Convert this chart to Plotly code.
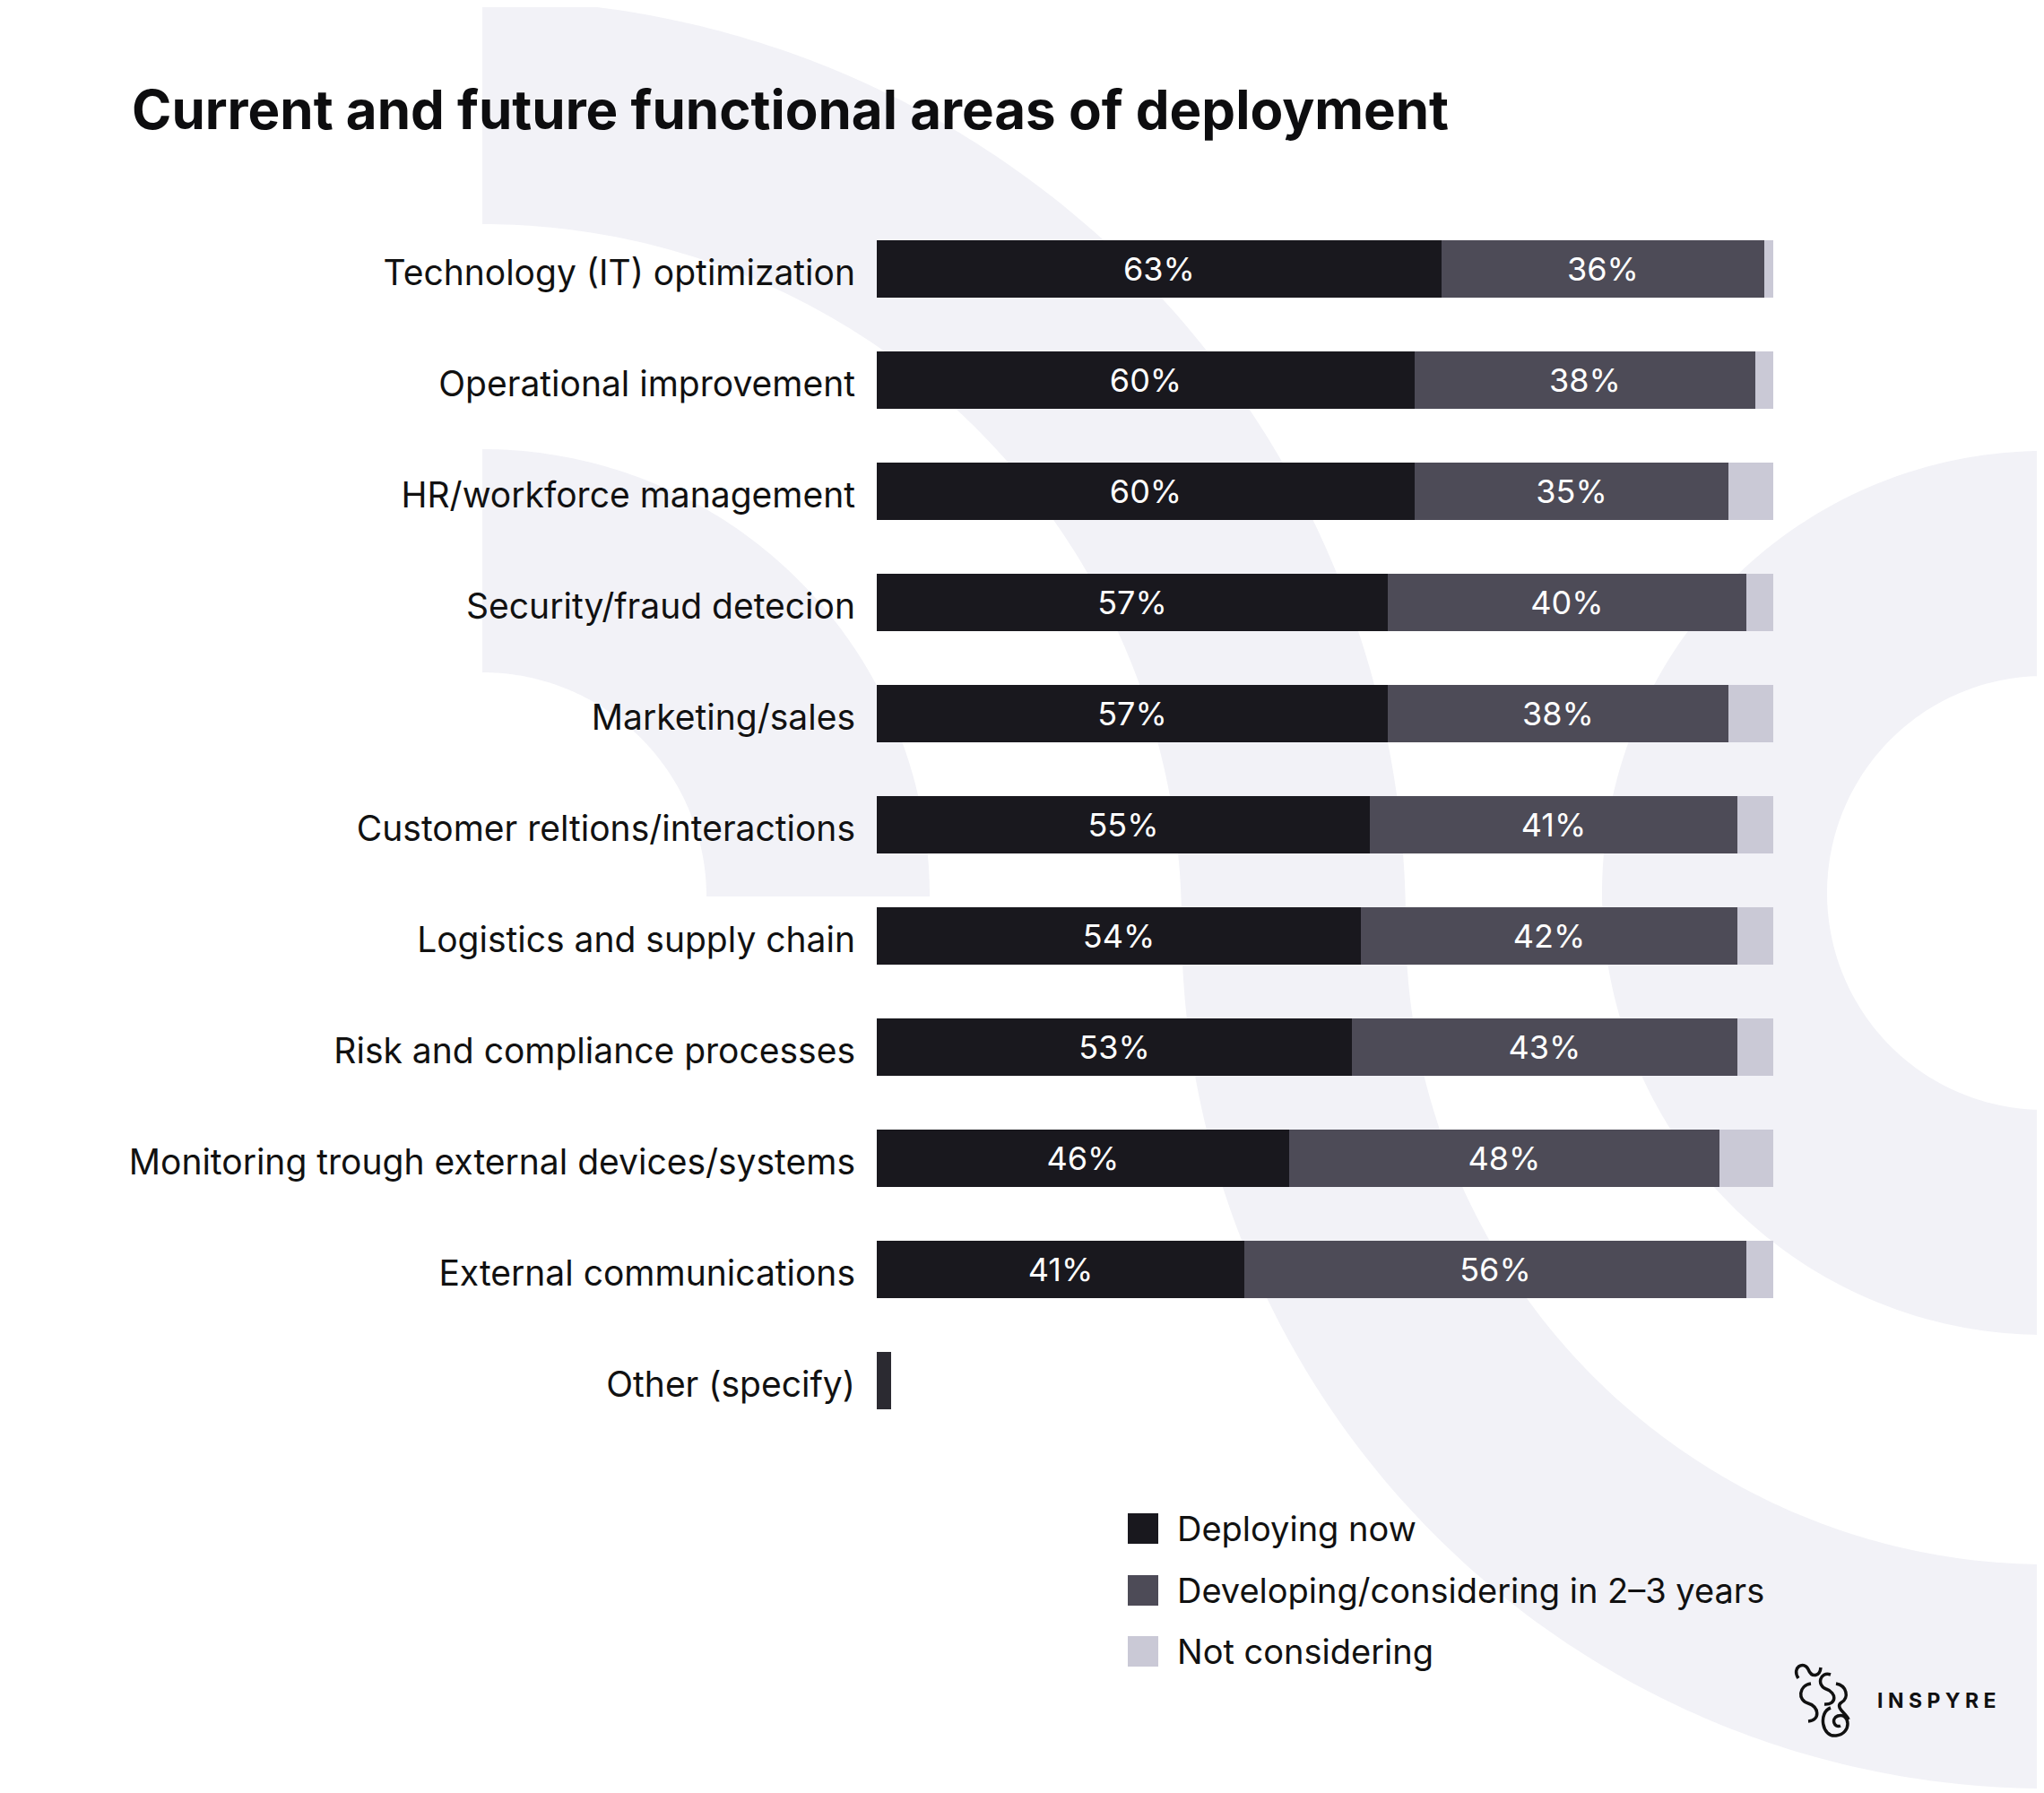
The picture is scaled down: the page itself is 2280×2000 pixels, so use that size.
import numpy as np
import plotly.graph_objects as go

# ---------------- data ----------------
categories = [
    "Technology (IT) optimization",
    "Operational improvement",
    "HR/workforce management",
    "Security/fraud detecion",
    "Marketing/sales",
    "Customer reltions/interactions",
    "Logistics and supply chain",
    "Risk and compliance processes",
    "Monitoring trough external devices/systems",
    "External communications",
    "Other (specify)",
]
deploying_now = [63, 60, 60, 57, 57, 55, 54, 53, 46, 41, 1.6]
developing = [36, 38, 35, 40, 38, 41, 42, 43, 48, 56, 0]
not_considering = [1, 2, 5, 3, 5, 4, 4, 4, 6, 3, 0]
series_names = ["Deploying now", "Developing/considering in 2–3 years", "Not considering"]
title_text = "Current and future functional areas of deployment"

# ---------------- styling ----------------
OFF = 8  # page body margin
W, H = 2280 - OFF, 2000 - OFF
ML, MT = 978 - OFF, 238 - OFF
MR = W - (1978 - OFF)
MB = H - (1602 - OFF)
PW, PH = W - ML - MR, H - MT - MB
FONT = "Inter"
COLORS = ["#19181e", "#4d4b57", "#cac9d6"]
OTHER_COLOR = "#2b2a31"
BG_SHAPE = "#f2f2f7"
LABEL_SIZE = 39


def px2paper(X, Y):
    """page pixel coordinates -> paper coordinates"""
    X, Y = X - OFF, Y - OFF
    return (X - ML) / PW, 1 - (Y - MT) / PH


def poly_path(points):
    parts = []
    for i, (X, Y) in enumerate(points):
        x, y = px2paper(X, Y)
        parts.append(("M" if i == 0 else "L") + f"{x:.5f},{y:.5f}")
    return " ".join(parts) + " Z"


def arc_pts(cx, cy, r, t0, t1, n=140):
    t = np.radians(np.linspace(t0, t1, n))
    return list(zip(cx + r * np.cos(t), cy + r * np.sin(t)))


shapes = []
# big S-shaped band
ptsA = (arc_pts(538, 1030, 1030, -90, 0)
        + arc_pts(2283, 1030, 715, 180, 90)
        + arc_pts(2283, 1030, 965, 90, 180)
        + arc_pts(538, 1030, 780, 0, -90))
# small quarter band
ptsB = arc_pts(538, 1000, 499, -90, 0) + arc_pts(538, 1000, 250, 0, -90)
# right half ring
ptsC = arc_pts(2280, 996, 493, -90, -270) + arc_pts(2280, 996, 242, -270, -90)
for p in (ptsA, ptsB, ptsC):
    shapes.append(dict(type="path", xref="paper", yref="paper", path=poly_path(p),
                       fillcolor=BG_SHAPE, line=dict(width=0), layer="below"))

# legend (squares + labels)
annotations = []
leg_y = [1705, 1774, 1842]
for name, col, yc in zip(series_names, COLORS, leg_y):
    x0, y0 = px2paper(1258, yc - 17)
    x1, y1 = px2paper(1292, yc + 17)
    shapes.append(dict(type="rect", xref="paper", yref="paper", x0=x0, x1=x1, y0=y0, y1=y1,
                       fillcolor=col, line=dict(width=0), layer="above"))
    tx, ty = px2paper(1311, yc)
    annotations.append(dict(xref="paper", yref="paper", x=tx, y=ty, xanchor="left", yanchor="middle",
                            text=name, showarrow=False,
                            font=dict(family=FONT, size=38, color="#111111")))

# logo text
lx, ly = px2paper(2092, 1897)
annotations.append(dict(xref="paper", yref="paper", x=lx, y=ly, xanchor="left", yanchor="middle",
                        text="I N S P Y R E", showarrow=False,
                        font=dict(family=FONT, size=23, color="#111111", weight=700)))


def curve_path(segs):
    out = []
    for seg in segs:
        cmd, pts = seg[0], seg[1:]
        conv = []
        for (X, Y) in pts:
            x, y = px2paper(X, Y)
            conv.append(f"{x:.5f},{y:.5f}")
        out.append(cmd + " ".join(conv))
    return " ".join(out)


logo_curves = [
    [("M", (2006, 1872)), ("C", (1998, 1860), (2012, 1852), (2017, 1862)),
     ("C", (2021, 1872), (2030, 1870), (2031, 1860))],
    [("M", (2042, 1868)), ("C", (2030, 1864), (2026, 1880), (2037, 1884)),
     ("C", (2049, 1888), (2049, 1902), (2035, 1901))],
    [("M", (2020, 1878)), ("C", (2006, 1880), (2005, 1897), (2017, 1900)),
     ("C", (2029, 1903), (2031, 1919), (2017, 1920))],
    [("M", (2048, 1878)), ("C", (2060, 1880), (2063, 1894), (2054, 1899)),
     ("C", (2046, 1904), (2060, 1912), (2062, 1918))],
    [("M", (2042, 1905)), ("C", (2028, 1910), (2032, 1938), (2048, 1936)),
     ("C", (2066, 1934), (2064, 1910), (2050, 1914)),
     ("C", (2042, 1917), (2046, 1928), (2053, 1925))],
]
for segs in logo_curves:
    shapes.append(dict(type="path", xref="paper", yref="paper", path=curve_path(segs),
                       line=dict(color="#111111", width=3.5), layer="above"))

# ---------------- traces ----------------
dep_colors = [COLORS[0]] * (len(categories) - 1) + [OTHER_COLOR]
dep_text = [f"{v:g}%" for v in deploying_now[:-1]] + [""]
dev_text = [f"{v:g}%" if v > 0 else "" for v in developing]

fig = go.Figure()
fig.add_trace(go.Bar(
    y=categories, x=deploying_now, orientation="h", name=series_names[0],
    marker=dict(color=dep_colors, line=dict(width=0)),
    text=dep_text, textposition="inside", insidetextanchor="middle", textangle=0,
    textfont=dict(family=FONT, size=36, color="white"), hoverinfo="skip",
))
fig.add_trace(go.Bar(
    y=categories, x=developing, orientation="h", name=series_names[1],
    marker=dict(color=COLORS[1], line=dict(width=0)),
    text=dev_text, textposition="inside", insidetextanchor="middle", textangle=0,
    textfont=dict(family=FONT, size=36, color="white"), hoverinfo="skip",
))
fig.add_trace(go.Bar(
    y=categories, x=not_considering, orientation="h", name=series_names[2],
    marker=dict(color=COLORS[2], line=dict(width=0)), hoverinfo="skip",
))

tx, ty = (147 - OFF) / W, 1 - (123 - OFF) / H
fig.update_layout(
    template="none",
    width=W, height=H,
    margin=dict(l=ML, r=MR, t=MT, b=MB, autoexpand=False),
    barmode="stack", bargap=0.484,
    showlegend=False,
    paper_bgcolor="white", plot_bgcolor="rgba(0,0,0,0)",
    title=dict(text=title_text, xref="container", yref="container", x=tx, y=ty,
               xanchor="left", yanchor="middle",
               font=dict(family=FONT, size=60, color="#0d0d0f", weight=700)),
    xaxis=dict(range=[0, 100], visible=False, showgrid=False, zeroline=False, automargin=False),
    yaxis=dict(type="category", categoryorder="array", categoryarray=categories,
               range=[len(categories) - 0.5, -0.5], showgrid=False, zeroline=False,
               showline=False, ticks="", ticklabelstandoff=23, ticklabelshift=-4,
               automargin=False,
               tickfont=dict(family=FONT, size=LABEL_SIZE, color="#111111")),
    shapes=shapes, annotations=annotations,
)

fig.write_html("out.html")
